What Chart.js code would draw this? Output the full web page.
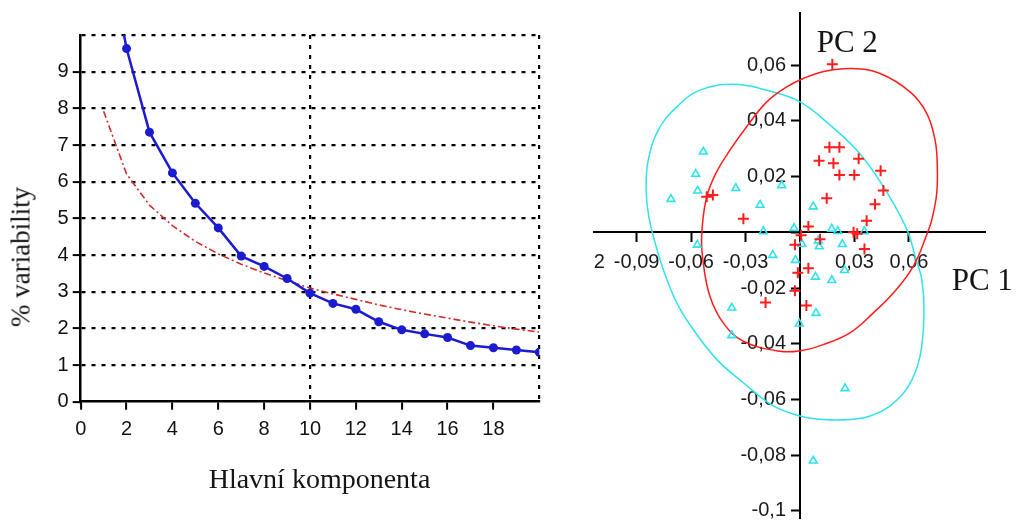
<!DOCTYPE html>
<html lang="cs">
<head>
<meta charset="UTF-8">
<title>Scree plot a skóre PCA</title>
<script src="https://cdn.jsdelivr.net/npm/chart.js"></script>
<style>
body {
margin: 0;
background: #fff;
}
.page {
position: relative;
width: 1017px;
height: 526px;
overflow: hidden;
}
#screeChart {
position: absolute;
left: 0;
top: 0;
}
#scoreClip {
position: absolute;
left: 593px;
top: 0;
width: 424px;
height: 526px;
overflow: hidden;
}
#scoreChart {
position: absolute;
left: -53px;
top: 0;
}
.title {
position: absolute;
font-family: 'Liberation Serif', 'Times New Roman', serif;
color: #151515;
white-space: nowrap;
}
</style>
</head>
<body>
<div class="page">
<canvas id="screeChart" width="570" height="526"></canvas>
<div id="scoreClip"><canvas id="scoreChart" width="477" height="526"></canvas></div>

<div class="title" style="left:21px; top:257px; font-size:27px; line-height:27px; transform:translate(-50%,-50%) rotate(-90deg);">% variability</div>
<div class="title" style="left:319.5px; top:464.5px; font-size:28px; line-height:28px; transform:translateX(-50%);">Hlavní komponenta</div>
<div class="title" style="left:816.7px; top:25.7px; font-size:31px; line-height:31px;">PC 2</div>
<div class="title" style="left:951.7px; top:264px; font-size:31px; line-height:31px;">PC 1</div>
</div>

<script>
// scree plot: explained variability per component vs. broken stick
const components = [1, 2, 3, 4, 5, 6, 7, 8, 9, 10, 11, 12, 13, 14, 15, 16, 17, 18, 19, 20];
const explained = [13.0, 9.63, 7.35, 6.24, 5.41, 4.74, 3.97, 3.69, 3.36, 2.96, 2.68, 2.52, 2.18, 1.96, 1.85, 1.75, 1.53, 1.47, 1.41, 1.35];
const brokenStick = [7.92, 6.21, 5.36, 4.80, 4.37, 4.03, 3.75, 3.51, 3.30, 3.10, 2.94, 2.79, 2.64, 2.51, 2.39, 2.28, 2.17, 2.07, 1.98, 1.90];
const screeXTicks = [0, 2, 4, 6, 8, 10, 12, 14, 16, 18, 20];
const screeYTicks = [0, 1, 2, 3, 4, 5, 6, 7, 8, 9, 10];

// PCA scores of the two groups (PC1, PC2)
const groupA = [
[0.0178, 0.0603], [0.0162, 0.0305], [0.0217, 0.0305], [0.0105, 0.0257],
[0.0184, 0.0248], [0.0323, 0.0264], [0.0217, 0.0206], [0.0299, 0.0206],
[0.0444, 0.0221], [0.0459, 0.0150], [0.0147, 0.0122], [0.0413, 0.0101],
[0.0367, 0.0041], [0.0046, 0.0021], [0.0006, -0.0011], [0.0295, 0.0000],
[0.0315, -0.0005], [0.0110, -0.0025], [-0.0028, -0.0045], [0.0355, -0.0060],
[-0.0012, -0.0145], [0.0046, -0.0129], [-0.0028, -0.0210], [0.0035, -0.0263],
[-0.0190, -0.0252], [-0.0312, 0.0049], [-0.0514, 0.0128], [-0.0480, 0.0134]
];
const groupB = [
[-0.0533, 0.0289], [-0.0575, 0.0209], [-0.0564, 0.0149], [-0.0711, 0.0119],
[-0.0354, 0.0158], [-0.0101, 0.0168], [-0.0220, 0.0098], [-0.0202, 0.0003],
[0.0073, 0.0092], [-0.0033, 0.0015], [-0.0566, -0.0045], [0.0175, 0.0012],
[0.0208, 0.0004], [0.0354, 0.0003], [0.0010, -0.0042], [0.0101, -0.0030],
[0.0106, -0.0051], [0.0233, -0.0043], [-0.0025, -0.0100], [-0.0150, -0.0082],
[0.0085, -0.0160], [0.0175, -0.0172], [0.0245, -0.0136], [-0.0376, -0.0271],
[-0.0376, -0.0370], [0.0088, -0.0290], [-0.0004, -0.0328], [0.0248, -0.0560],
[0.0073, -0.0820]
];

// outlines of the group ellipses, clockwise from the top
const ellipseA = [
[0.0285, 0.0588], [0.0441, 0.0570], [0.0606, 0.0504], [0.0698, 0.0427],
[0.0744, 0.0331], [0.0756, 0.0242], [0.0753, 0.0140], [0.0726, 0.0045],
[0.0698, -0.0009], [0.0624, -0.0122], [0.0514, -0.0218], [0.0404, -0.0289],
[0.0275, -0.0361], [0.0128, -0.0403], [0.0009, -0.0424], [-0.0110, -0.0427],
[-0.0312, -0.0391], [-0.0423, -0.0325], [-0.0496, -0.0230], [-0.0533, -0.0110],
[-0.0542, -0.0015], [-0.0518, 0.0116], [-0.0468, 0.0206], [-0.0386, 0.0295],
[-0.0294, 0.0379], [-0.0183, 0.0468], [-0.0073, 0.0522], [0.0018, 0.0552],
[0.0138, 0.0578]
];
const ellipseB = [
[-0.0367, 0.0531], [-0.0183, 0.0510], [0.0000, 0.0468], [0.0165, 0.0385],
[0.0312, 0.0295], [0.0423, 0.0200], [0.0514, 0.0105], [0.0597, -0.0003],
[0.0634, -0.0087], [0.0671, -0.0170], [0.0683, -0.0289], [0.0661, -0.0445],
[0.0597, -0.0552], [0.0496, -0.0623], [0.0386, -0.0659], [0.0275, -0.0672],
[0.0128, -0.0672], [0.0000, -0.0659], [-0.0147, -0.0623], [-0.0312, -0.0540],
[-0.0459, -0.0456], [-0.0588, -0.0349], [-0.0679, -0.0253], [-0.0753, -0.0134],
[-0.0808, -0.0015], [-0.0836, 0.0069], [-0.0848, 0.0164], [-0.0836, 0.0259],
[-0.0781, 0.0367], [-0.0679, 0.0450], [-0.0551, 0.0510]
];
const pc1Ticks = [-0.12, -0.09, -0.06, -0.03, 0, 0.03, 0.06];
const pc2Ticks = [-0.1, -0.08, -0.06, -0.04, -0.02, 0, 0.02, 0.04, 0.06];

const BLUE = '#1b1bcf';
const BROWN_RED = '#d12b2b';
const RED = '#ff1c1c';
const CYAN = '#2fe2ec';
const tickFont = { family: "'Liberation Sans', Arial, sans-serif", size: 20 };

const toXY = pairs => pairs.map(([x, y]) => ({ x, y }));

// repeat neighbours around the seam so the smoothed outline closes without a kink
const closedLoop = pairs => {
const n = pairs.length;
return toXY([pairs[n - 1], ...pairs, pairs[0], pairs[1]]);
};
const loopSegment = (pairs, color) => ({
borderColor: ctx => (ctx.p0DataIndex === 0 || ctx.p0DataIndex === pairs.length + 1) ? 'transparent' : color
});

const zeroPad = scale => {
scale.paddingLeft = 0;
scale.paddingRight = 0;
scale.paddingTop = 0;
scale.paddingBottom = 0;
};

// a y axis placed at x = 0 writes its labels right on the axis line,
// so move them left past the tick marks
const yLabelGap = {
id: 'yLabelGap',
beforeDraw(chart) {
const items = chart.scales.y.getLabelItems();
if (items.shifted) return;
items.forEach(item => { item.options.translation[0] -= 14; });
items.shifted = true;
}
};

new Chart(document.getElementById('screeChart'), {
type: 'line',
data: {
datasets: [{
label: 'variabilita',
data: components.map((c, i) => ({ x: c, y: explained[i] })),
borderColor: BLUE,
backgroundColor: BLUE,
borderWidth: 2.5,
pointRadius: 4.5,
pointBorderWidth: 0,
tension: 0
}, {
label: 'broken stick',
data: components.map((c, i) => ({ x: c, y: brokenStick[i] })),
borderColor: BROWN_RED,
borderWidth: 1.6,
borderDash: [7, 3, 2, 3],
pointRadius: 0,
tension: 0
}]
},
options: {
responsive: false,
animation: false,
events: [],
layout: { padding: { left: 0, top: 35, right: 30.7, bottom: 0 } },
plugins: { legend: { display: false }, tooltip: { enabled: false } },
scales: {
x: {
type: 'linear',
min: 0,
max: 20,
afterBuildTicks: s => { s.ticks = screeXTicks.map(v => ({ value: v })); },
afterFit: s => { s.height = 124.3; zeroPad(s); },
ticks: {
autoSkip: false,
maxRotation: 0,
padding: 8,
color: '#111',
font: tickFont,
callback: v => v === 20 ? '' : v
},
grid: {
color: ctx => (ctx.tick && (ctx.tick.value === 10 || ctx.tick.value === 20)) ? '#000' : 'transparent',
lineWidth: 2.2,
tickColor: ctx => (ctx.tick && ctx.tick.value === 20) ? 'transparent' : '#000',
tickLength: 8,
tickWidth: 2
},
border: { color: '#000', width: 2.5, dash: [4, 6] }
},
y: {
type: 'linear',
min: 0,
max: 10,
afterBuildTicks: s => { s.ticks = screeYTicks.map(v => ({ value: v })); },
afterFit: s => { s.width = 80.7; zeroPad(s); },
ticks: {
autoSkip: false,
padding: 4,
color: '#111',
font: tickFont,
callback: v => v === 10 ? '' : v
},
grid: {
color: ctx => (ctx.tick && ctx.tick.value === 0) ? 'transparent' : '#000',
lineWidth: 2.2,
tickColor: ctx => (ctx.tick && ctx.tick.value === 10) ? 'transparent' : '#000',
tickLength: 8,
tickWidth: 2
},
border: { color: '#000', width: 2.5, dash: [4, 6] }
}
}
}
});

const commaLabel = v => v === 0 ? '' : String(v).replace('.', ',');

new Chart(document.getElementById('scoreChart'), {
type: 'line',
data: {
datasets: [{
label: 'skupina A',
data: toXY(groupA),
showLine: false,
pointStyle: 'cross',
pointRadius: 5.5,
borderColor: RED,
backgroundColor: RED,
borderWidth: 2
}, {
label: 'skupina B',
data: toXY(groupB),
showLine: false,
pointStyle: 'triangle',
pointRadius: 4.5,
borderColor: CYAN,
backgroundColor: 'rgba(255,255,255,0)',
borderWidth: 1.6
}, {
label: 'elipsa A',
data: closedLoop(ellipseA),
borderColor: RED,
borderWidth: 1.5,
pointRadius: 0,
tension: 0.4,
segment: loopSegment(ellipseA, RED)
}, {
label: 'elipsa B',
data: closedLoop(ellipseB),
borderColor: CYAN,
borderWidth: 1.5,
pointRadius: 0,
tension: 0.4,
segment: loopSegment(ellipseB, CYAN)
}]
},
options: {
responsive: false,
animation: false,
events: [],
layout: { padding: { left: 42.2, top: 12.7, right: 32, bottom: 6 } },
plugins: { legend: { display: false }, tooltip: { enabled: false } },
scales: {
x: {
type: 'linear',
position: { y: 0 },
min: -0.12,
max: 0.1019,
afterBuildTicks: s => { s.ticks = pc1Ticks.map(v => ({ value: v })); },
afterFit: zeroPad,
ticks: {
autoSkip: false,
maxRotation: 0,
padding: 9,
color: '#1a1a1a',
font: tickFont,
callback: commaLabel
},
grid: { drawOnChartArea: false, color: '#000', tickLength: 9, tickWidth: 2 },
border: { color: '#000', width: 2 }
},
y: {
type: 'linear',
position: { x: 0 },
min: -0.1027,
max: 0.0788,
afterBuildTicks: s => { s.ticks = pc2Ticks.map(v => ({ value: v })); },
afterFit: zeroPad,
ticks: {
autoSkip: false,
padding: 6,
color: '#1a1a1a',
font: tickFont,
callback: commaLabel
},
grid: { drawOnChartArea: false, color: '#000', tickLength: 8, tickWidth: 2 },
border: { color: '#000', width: 2 }
}
}
},
plugins: [yLabelGap]
});
</script>
</body>
</html>
